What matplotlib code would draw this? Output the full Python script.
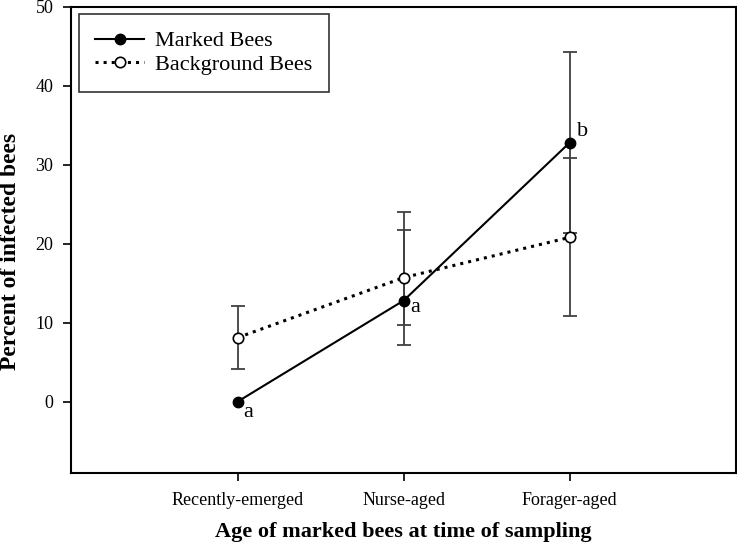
import numpy as np
import matplotlib
matplotlib.use("Agg")
import matplotlib.pyplot as plt

plt.rcParams['font.family'] = ['Liberation Serif', 'DejaVu Serif']

# data
ages = ["Recently-emerged", "Nurse-aged", "Forager-aged"]
marked = [0.0, 12.8, 32.8]
marked_lo = [0.0, 5.6, 11.4]
marked_hi = [0.0, 11.2, 11.4]
background = [8.1, 15.7, 20.8]
background_err = [4.0, 6.0, 10.0]
letters = ["a", "a", "b"]
letter_offsets = [(4, -8), (5, -5), (5, 8)]

x = np.arange(1, len(ages) + 1)

fig = plt.figure(figsize=(7.37, 5.51), dpi=100)
ax = fig.add_axes([0.097, 0.142, 0.9015, 0.846])

ebar = dict(ecolor='#404040', elinewidth=1.3, capsize=5, capthick=1.3)

ax.errorbar(x, background, yerr=background_err, fmt='none', zorder=1, **ebar)
ax.errorbar(x[1:], marked[1:], yerr=[marked_lo[1:], marked_hi[1:]], fmt='none', zorder=1, **ebar)

ax.plot(x, marked, '-', color='black', lw=1.5, marker='o', ms=7.5,
        mfc='black', mec='black', label='Marked Bees', zorder=3)
ax.plot(x, background, ':', color='black', lw=2.2, marker='o', ms=7.5,
        mfc='white', mec='black', mew=1.2, label='Background Bees', zorder=3)

for xi, yi, t, off in zip(x, marked, letters, letter_offsets):
    ax.annotate(t, (xi, yi), xytext=off, textcoords='offset points',
                fontsize=16, va='center', ha='left')

ax.set_xlim(0, 4)
ax.set_ylim(-9, 50)
ax.set_xticks(x)
ax.set_xticklabels(ages)
ax.set_yticks(np.arange(0, 51, 10))
ax.tick_params(direction='out', length=6, width=1.2, labelsize=13, pad=7)
ax.tick_params(axis='x', pad=8)

for s in ax.spines.values():
    s.set_linewidth(1.5)

ax.set_xlabel("Age of marked bees at time of sampling", fontsize=16,
              fontweight='bold', labelpad=9)
ax.set_ylabel("Percent of infected bees", fontsize=17, fontweight='bold')
ax.yaxis.set_label_coords(-0.076, 0.475)

leg = ax.legend(loc='upper left', fontsize=16, frameon=True, fancybox=False,
                edgecolor='black', handlelength=2.2, handletextpad=0.5,
                borderpad=0.75, labelspacing=0.15, borderaxespad=0,
                bbox_to_anchor=(0.011, 0.984))
leg.get_frame().set_linewidth(1.2)

fig.savefig("out.png", dpi=100)
